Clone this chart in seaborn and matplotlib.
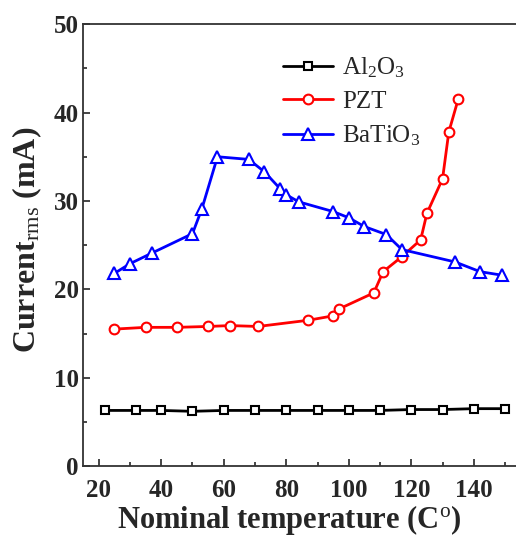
import matplotlib
matplotlib.use("Agg")
import matplotlib.pyplot as plt
from matplotlib.ticker import MultipleLocator
import seaborn as sns
import pandas as pd

# Al2O3 series
al_temp = [22, 32, 40, 50, 60, 70, 80, 90, 100, 110, 120, 130, 140, 150]
al_curr = [6.3, 6.3, 6.3, 6.2, 6.3, 6.3, 6.3, 6.3, 6.3, 6.3, 6.4, 6.4, 6.5, 6.5]

# PZT series
pzt_temp = [25, 35, 45, 55, 62, 71, 87, 95, 97, 108, 111, 117, 123, 125, 130, 132, 135]
pzt_curr = [15.5, 15.7, 15.7, 15.8, 15.9, 15.8, 16.5, 17.0, 17.8, 19.6, 22.0, 23.7,
            25.6, 28.6, 32.5, 37.8, 41.5]

# BaTiO3 series
bto_temp = [25, 30, 37, 50, 53, 58, 68, 73, 78, 80, 84, 95, 100, 105, 112, 117, 134, 142, 149]
bto_curr = [21.8, 22.9, 24.1, 26.3, 29.1, 35.0, 34.7, 33.3, 31.4, 30.7, 29.9, 28.8,
            28.1, 27.1, 26.2, 24.5, 23.1, 22.0, 21.6]

sns.set_style("ticks")
plt.rcParams["font.family"] = ["Liberation Serif", "DejaVu Serif"]
plt.rcParams["mathtext.fontset"] = "custom"
plt.rcParams["mathtext.rm"] = "Liberation Serif"
plt.rcParams["mathtext.it"] = "Liberation Serif:italic"
plt.rcParams["mathtext.bf"] = "Liberation Serif:bold"

fig = plt.figure(figsize=(5.16, 5.37), dpi=100)
ax = fig.add_axes([0.161, 0.132, 0.839, 0.823])

series = [
    ("Al$_2$O$_3$", al_temp, al_curr, "black", "s", 6),
    ("PZT", pzt_temp, pzt_curr, "red", "o", 7),
    ("BaTiO$_3$", bto_temp, bto_curr, "blue", "^", 8),
]
for label, xs, ys, col, mk, ms in series:
    df = pd.DataFrame({"temp": xs, "curr": ys})
    sns.lineplot(data=df, x="temp", y="curr", ax=ax, color=col, marker=mk,
                 markersize=ms, markerfacecolor="white", markeredgecolor=col,
                 markeredgewidth=1.5, linewidth=2, label=label)

ax.set_xlim(15, 153.5)
ax.set_ylim(0, 50)
ax.xaxis.set_major_locator(MultipleLocator(20))
ax.xaxis.set_minor_locator(MultipleLocator(10))
ax.yaxis.set_major_locator(MultipleLocator(10))
ax.yaxis.set_minor_locator(MultipleLocator(5))
ax.tick_params(which="both", direction="in", width=1.2)
ax.tick_params(which="major", length=5, labelsize=18)
ax.tick_params(which="minor", length=3)
ax.tick_params(axis="x", which="major", pad=9)
ax.tick_params(axis="y", which="major", pad=3)
for lab in ax.get_xticklabels() + ax.get_yticklabels():
    lab.set_fontweight("bold")
for sp in ["left", "bottom", "top"]:
    ax.spines[sp].set_linewidth(1.3)
    ax.spines[sp].set_color("#333333")
ax.spines["right"].set_visible(False)

ax.set_xlabel("Nominal temperature (C$^{\\rm o}$)", fontsize=22, fontweight="bold")
ax.set_ylabel("Current$_{\\rm rms}$ (mA)", fontsize=23, fontweight="bold")
ax.xaxis.set_label_coords(0.477, -0.083)
ax.yaxis.set_label_coords(-0.09, 0.511)

ax.legend(loc="upper left", bbox_to_anchor=(0.462, 0.929), frameon=False,
          borderaxespad=0, borderpad=0, fontsize=18, handlelength=2.0,
          labelspacing=0.42, handletextpad=0.35)

fig.savefig("out.png", dpi=100)
